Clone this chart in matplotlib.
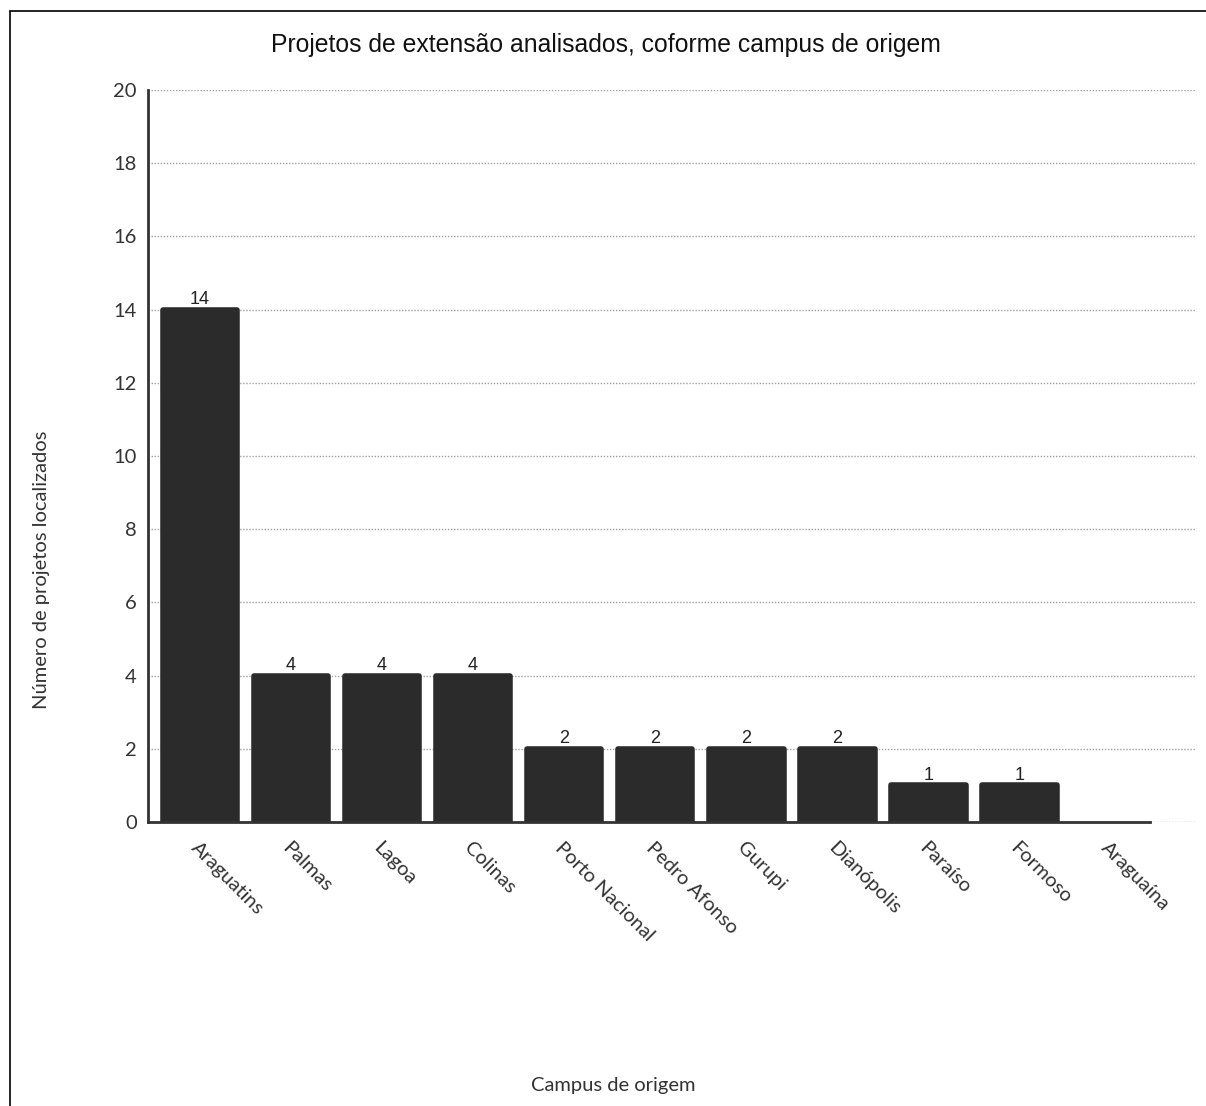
import matplotlib
matplotlib.use("Agg")
import matplotlib.pyplot as plt
from matplotlib.patches import Rectangle

campus = ["Araguatins", "Palmas", "Lagoa", "Colinas", "Porto Nacional",
          "Pedro Afonso", "Gurupi", "Dianópolis", "Paraíso", "Formoso", "Araguaína"]
projetos = [14, 4, 4, 4, 2, 2, 2, 2, 1, 1, 0]
y_ticks = [0, 2, 4, 6, 8, 10, 12, 14, 16, 18, 20]

W, H = 1206, 1106
fig = plt.figure(figsize=(W / 100, H / 100), dpi=100)
ax = fig.add_axes([148 / W, 1 - 822 / H, (1195 - 148) / W, (822 - 90) / H])

bar_color = "#2b2b2b"
x = list(range(len(campus)))
bars = ax.bar(x, projetos, width=0.82, color=bar_color, edgecolor=bar_color,
              linewidth=4, joinstyle="round", zorder=3)
# empty categories keep only the baseline
for b, v in zip(bars, projetos):
    if v == 0:
        b.set_linewidth(0)

labels = [str(v) if v > 0 else "" for v in projetos]
ax.bar_label(bars, labels=labels, padding=1, fontsize=13,
             family="Liberation Sans", color="#222222")

ax.set_xlim(-0.571, 10.93)
ax.set_ylim(0, 20)
ax.set_yticks(y_ticks)
ax.set_yticklabels([str(t) for t in y_ticks], family="Lato", fontsize=14.5, color="#333333")
ax.tick_params(axis="y", length=0, pad=8)

ax.set_xticks(x)
ax.set_xticklabels(campus, rotation=-45, ha="left", va="top",
                   rotation_mode="anchor", family="Lato", fontsize=14.5, color="#333333")
ax.tick_params(axis="x", length=0, pad=12)

ax.yaxis.grid(True, linestyle=(0, (1, 1.2)), color="#a0a0a0", linewidth=1, zorder=0)
ax.set_axisbelow(True)

for s in ["top", "right"]:
    ax.spines[s].set_visible(False)
ax.spines["left"].set_linewidth(2)
ax.spines["left"].set_color("#333333")
ax.spines["bottom"].set_linewidth(2)
ax.spines["bottom"].set_color("#333333")
ax.spines["bottom"].set_bounds(-0.571, 10.44)
ax.spines["bottom"].set_zorder(4)

fig.text(606 / W, 1 - 45 / H, "Projetos de extensão analisados, coforme campus de origem",
         ha="center", va="center", family="Liberation Sans", fontsize=17.8, color="#111111")
fig.text(42 / W, 1 - 570 / H, "Número de projetos localizados", rotation=90,
         ha="center", va="center", family="Lato", fontsize=14.5, color="#333333")
fig.text(613 / W, 1 - 1086 / H, "Campus de origem",
         ha="center", va="center", family="Lato", fontsize=14.5, color="#333333")

fig.patches.append(Rectangle((10 / W, -0.01), 1.1, 1 - 11 / H + 0.01,
                             transform=fig.transFigure, fill=False,
                             edgecolor="black", linewidth=1.2))

fig.savefig("out.png", dpi=100)
